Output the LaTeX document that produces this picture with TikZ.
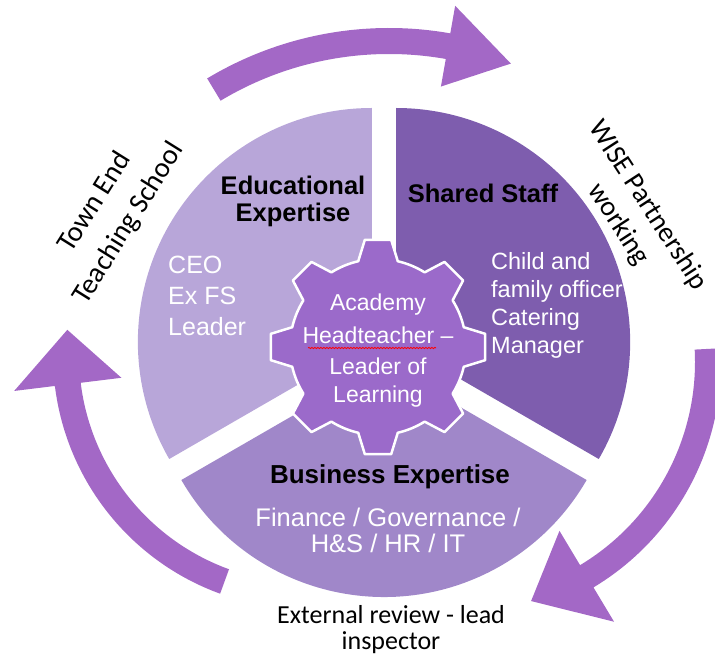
\documentclass[tikz,border=0pt]{standalone}
\usepackage{fontspec}
\setmainfont{Liberation Sans}
\newfontfamily\calibri{Carlito}
\usetikzlibrary{calc,decorations.pathmorphing}

\definecolor{eduPurple}{RGB}{184,166,217}
\definecolor{staffPurple}{RGB}{126,93,174}
\definecolor{bizPurple}{RGB}{160,135,201}
\definecolor{gearPurple}{RGB}{155,106,202}
\definecolor{cyclePurple}{RGB}{163,104,198}

\tikzset{
  heading/.style={font=\bfseries\fontsize{25.5}{27}\selectfont,text=black,align=center,inner sep=0pt},
  detail/.style={font=\fontsize{24}{29}\selectfont,text=white,inner sep=0pt},
  outer/.style={font=\calibri\fontsize{28.5}{40}\selectfont,align=center,inner sep=0pt},
  cycle arrow/.style={fill=cyclePurple},
  gear/.style={fill=gearPurple,draw=white,line width=2.5pt,line join=round}
}

% bent block arrow round a centre:
% #1 centre, #2 radius, #3 tail angle, #4 head base angle, #5 tip angle, #6 head half width
\newcommand{\bentarrow}[6]{%
  \fill[cycle arrow] ($(#1)+(#3:#2pt+13pt)$) arc[start angle=#3,end angle=#4,radius=#2pt+13pt]
    -- ($(#1)+(#4:#2pt+#6pt)$) -- ($(#1)+(#5:#2pt)$) -- ($(#1)+(#4:#2pt-#6pt)$)
    -- ($(#1)+(#4:#2pt-13pt)$) arc[start angle=#4,end angle=#3,radius=#2pt-13pt] -- cycle;}

\begin{document}
\begin{tikzpicture}[x=1pt,y=1pt]
\useasboundingbox (0,0) rectangle (715,657);

% three exploded segments
\coordinate (pie) at (384,308);
\fill[eduPurple] ($(pie)+(150:14)$) -- +(90:234) arc[start angle=90,end angle=210,radius=234pt] -- cycle;
\fill[staffPurple] ($(pie)+(30:14)$) -- +(-30:234) arc[start angle=-30,end angle=90,radius=234pt] -- cycle;
\fill[bizPurple] ($(pie)+(270:14)$) -- +(210:234) arc[start angle=210,end angle=330,radius=234pt] -- cycle;

% the cycle arrows
\coordinate (topC) at (389,276);
\coordinate (rightC) at (458,295);
\coordinate (leftC) at (307,302);
\bentarrow{topC}{340}{121}{80}{69}{41}
\bentarrow{rightC}{250}{3}{-59}{-73}{53}
\bentarrow{leftC}{241}{250}{187}{174}{54}

% gear in the middle
\begin{scope}[shift={(378,310)}]
\draw[gear] (-13:88pt) \foreach \a in {0,45,...,315}{
    -- (\a-13:88pt) -- (\a-7:108pt) -- (\a+7:108pt) -- (\a+13:88pt)
    arc[start angle=\a+13,end angle=\a+32,radius=88pt]} -- cycle;
\end{scope}

% segment texts
\node[heading] (edu) at (293,456) {Educational\\Expertise};
\node[heading] (staff) at (483,464) {Shared Staff};
\node[heading,font=\bfseries\fontsize{26}{27}\selectfont] (biz) at (390,180) {Business Expertise};
\node[detail,anchor=west,align=left,font=\fontsize{25}{31}\selectfont] (eduList) at (168,361) {CEO\\Ex FS\\Leader};
\node[detail,anchor=west,align=left,font=\fontsize{23.5}{28}\selectfont] (staffList) at (491,352) {Child and\\family officer\\Catering\\Manager};
\node[detail,align=center,font=\fontsize{25.5}{26}\selectfont] (bizList) at (388,127) {Finance / Governance /\\H\&S / HR / IT};
\node[detail,align=center,font=\fontsize{23}{28}\selectfont] (hub) at (378,306) {Academy\\[5pt]Headteacher –\\[3pt]Leader of\\Learning};
\draw[red,line width=0.8pt,decorate,decoration={snake,amplitude=0.7pt,segment length=3pt}]
  ($(hub.center)+(-70,3)$) -- ($(hub.center)+(58,3)$);

% partner labels round the outside
\node[outer,rotate=58] (town) at (112,444) {Town End\\Teaching School};
\node[outer,rotate=-57,font=\calibri\fontsize{28}{35}\selectfont] (wise) at (633,442) {WISE Partnership\\working};
\node[outer,font=\calibri\fontsize{26}{26}\selectfont] (review) at (391,27) {External review - lead\\inspector};
\end{tikzpicture}
\end{document}
